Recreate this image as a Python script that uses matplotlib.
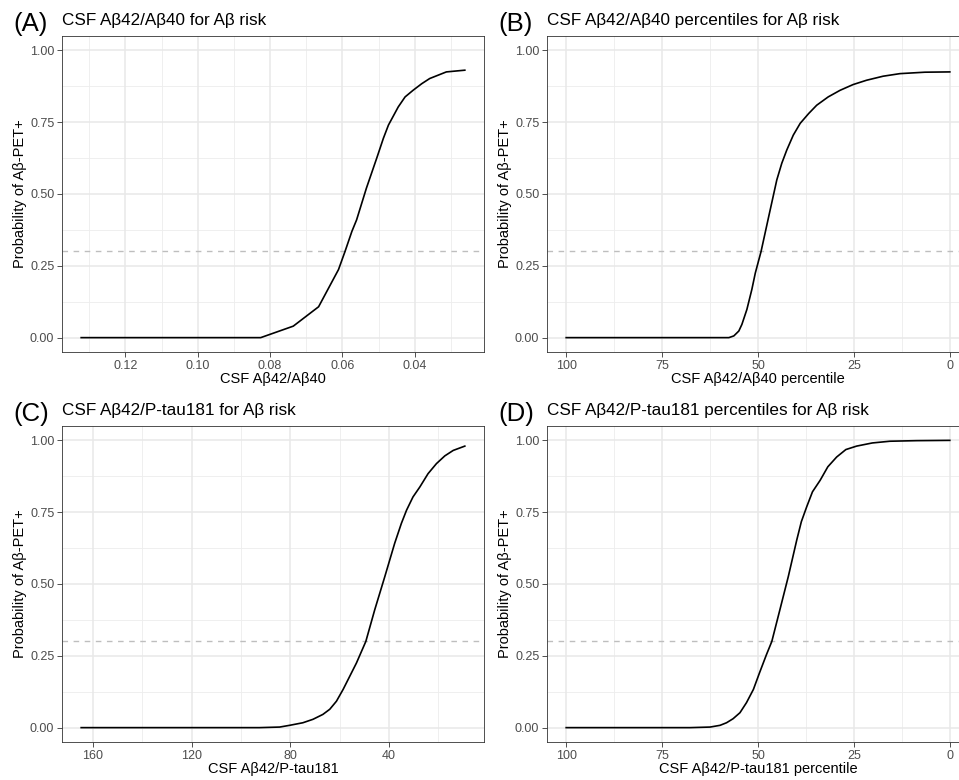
import matplotlib
matplotlib.use("Agg")
from matplotlib import pyplot as plt

plt.rcParams['font.family'] = ['Liberation Sans', 'DejaVu Sans']

# Panel A: CSF Ab42/Ab40 ratio
ratio_x = [0.1322, 0.0826, 0.0736, 0.0666, 0.0611, 0.0593, 0.0574, 0.0561, 0.0534,
           0.0504, 0.0487, 0.0473, 0.0446, 0.0427, 0.0405, 0.0381, 0.0359, 0.0313, 0.0262]
ratio_p = [0.0, 0.0, 0.040, 0.1075, 0.237, 0.30, 0.370, 0.410, 0.520,
           0.630, 0.694, 0.740, 0.803, 0.838, 0.861, 0.884, 0.902, 0.925, 0.931]

# Panel B: CSF Ab42/Ab40 percentile
ratio_pct_x = [100, 57.6, 56.3, 55.0, 54.2, 52.9, 51.6, 50.7, 49.2, 47.2, 45.1, 43.8,
               42.5, 40.8, 39.0, 36.8, 34.7, 31.7, 28.6, 25.2, 21.7, 17.4, 13.0, 6.5, 0]
ratio_pct_p = [0.0, 0.0, 0.006, 0.023, 0.046, 0.098, 0.168, 0.225, 0.30, 0.422, 0.549, 0.607,
               0.653, 0.705, 0.746, 0.780, 0.809, 0.838, 0.861, 0.881, 0.896, 0.910, 0.919,
               0.924, 0.925]

# Panel C: CSF Ab42/P-tau181 ratio
ptau_x = [164.7, 92.5, 84.3, 80.3, 74.9, 70.8, 66.8, 64.0, 61.3, 58.6, 55.9, 53.2, 49.4,
          45.8, 41.7, 37.7, 35.0, 32.9, 30.3, 27.5, 24.2, 20.8, 17.4, 14.0, 9.3]
ptau_p = [0.0, 0.0, 0.002, 0.008, 0.017, 0.029, 0.046, 0.064, 0.092, 0.133, 0.179, 0.225, 0.30,
          0.41, 0.526, 0.642, 0.711, 0.757, 0.803, 0.838, 0.884, 0.919, 0.946, 0.965, 0.980]

# Panel D: CSF Ab42/P-tau181 percentile
ptau_pct_x = [100, 67.7, 62.5, 59.9, 58.2, 56.5, 54.7, 53.0, 51.2, 49.6, 47.8, 46.4, 44.3,
              42.1, 39.9, 38.7, 37.3, 35.8, 33.8, 31.8, 29.5, 27.1, 24.3, 20.2, 15.6, 8.6, 0]
ptau_pct_p = [0.0, 0.0, 0.002, 0.008, 0.017, 0.031, 0.052, 0.087, 0.133, 0.191, 0.254, 0.30,
              0.41, 0.526, 0.653, 0.717, 0.769, 0.821, 0.861, 0.908, 0.942, 0.968, 0.980,
              0.991, 0.997, 0.999, 1.0]

cutoff = 0.30
y_ticks = [0, 0.25, 0.5, 0.75, 1.0]
y_labels = ['0.00', '0.25', '0.50', '0.75', '1.00']

panels = [
    ('(A)', 'CSF Aβ42/Aβ40 for Aβ risk', 'CSF Aβ42/Aβ40', ratio_x, ratio_p,
     [0.12, 0.10, 0.08, 0.06, 0.04], ['0.12', '0.10', '0.08', '0.06', '0.04'],
     [0.13, 0.11, 0.09, 0.07, 0.05, 0.03]),
    ('(B)', 'CSF Aβ42/Aβ40 percentiles for Aβ risk', 'CSF Aβ42/Aβ40 percentile',
     ratio_pct_x, ratio_pct_p,
     [100, 75, 50, 25, 0], ['100', '75', '50', '25', '0'], [87.5, 62.5, 37.5, 12.5]),
    ('(C)', 'CSF Aβ42/P-tau181 for Aβ risk', 'CSF Aβ42/P-tau181', ptau_x, ptau_p,
     [160, 120, 80, 40], ['160', '120', '80', '40'], [140, 100, 60, 20]),
    ('(D)', 'CSF Aβ42/P-tau181 percentiles for Aβ risk', 'CSF Aβ42/P-tau181 percentile',
     ptau_pct_x, ptau_pct_p,
     [100, 75, 50, 25, 0], ['100', '75', '50', '25', '0'], [87.5, 62.5, 37.5, 12.5]),
]

W, H = 959, 780
fig = plt.figure(figsize=(W / 100, H / 100), dpi=100)

# axes boxes in pixels: left, top
boxes = [(62, 36), (547, 36), (62, 426), (547, 426)]
ax_w, ax_h = 422, 316

for (tag, title, xlab, xs, ps, xt, xtl, xminor), (left, top) in zip(panels, boxes):
    ax = fig.add_axes([left / W, 1 - (top + ax_h) / H, ax_w / W, ax_h / H])
    lo, hi = max(xs), min(xs)
    pad = (lo - hi) * 0.05
    ax.set_xlim(lo + pad, hi - pad)
    ax.set_ylim(-0.05, 1.05)

    for v in xminor:
        ax.axvline(v, color='#EDEDED', lw=0.6, zorder=0)
    for v in [0.125, 0.375, 0.625, 0.875]:
        ax.axhline(v, color='#EDEDED', lw=0.6, zorder=0)
    for v in xt:
        ax.axvline(v, color='#E8E8E8', lw=1.1, zorder=0)
    for v in y_ticks:
        ax.axhline(v, color='#E8E8E8', lw=1.1, zorder=0)

    ax.axhline(cutoff, color='#BEBEBE', lw=1.0, ls=(0, (4, 4)), zorder=1)
    ax.plot(xs, ps, color='black', lw=1.2, zorder=2)

    ax.set_xticks(xt)
    ax.set_xticklabels(xtl)
    ax.set_yticks(y_ticks)
    ax.set_yticklabels(y_labels)
    ax.tick_params(labelsize=9, colors='#333333', labelcolor='#4D4D4D',
                   length=3.5, width=0.6, pad=2)
    for s in ax.spines.values():
        s.set_color('#333333')
        s.set_linewidth(0.6)

    ax.set_xlabel(xlab, fontsize=10.5, va='center')
    ax.set_ylabel('Probability of Aβ-PET+', fontsize=10.5, va='center')
    ax.xaxis.set_label_coords(0.5, -27 / ax_h)
    ax.yaxis.set_label_coords(-42 / ax_w, 0.5)

    base = 0 if top < 100 else 390
    fig.text((left - 49) / W, 1 - (base + 31) / H, tag,
             fontsize=18.5, va='baseline', ha='left')
    fig.text(left / W, 1 - (base + 25) / H, title,
             fontsize=12.3, va='baseline', ha='left')

fig.savefig('out.png', dpi=100)
